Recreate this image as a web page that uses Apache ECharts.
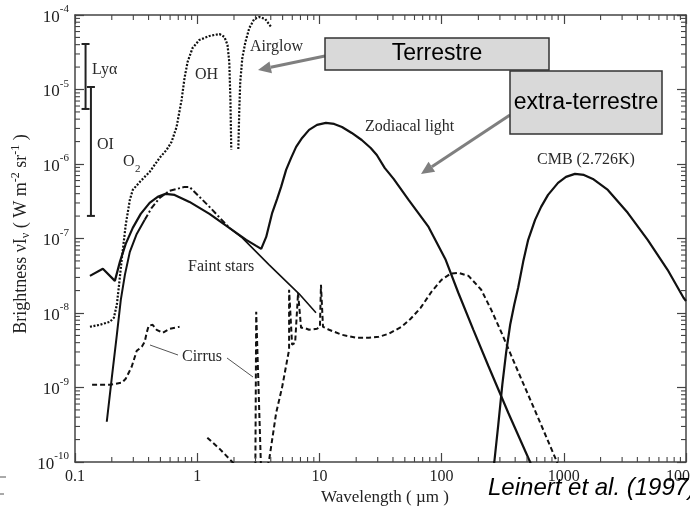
<!DOCTYPE html>
<html>
<head>
<meta charset="utf-8">
<script src="https://cdn.jsdelivr.net/npm/echarts@6/dist/echarts.min.js"></script>
<style>
  html, body { margin: 0; padding: 0; background: #ffffff; }
  #chart { width: 690px; height: 508px; }
</style>
</head>
<body>
<div id="chart"></div>
<script>
// Diffuse night-sky brightness: wavelength (µm) vs νIν (W m^-2 sr^-1)

// axis decades and minor steps
const xDecades = [0.1, 1, 10, 100, 1000, 10000];
const yDecades = [1e-10, 1e-9, 1e-8, 1e-7, 1e-6, 1e-5, 1e-4];
const minorSteps = [2, 3, 4, 5, 6, 7, 8, 9];

// zodiacal light (UV part, scattered-light peak, thermal emission peak)
const zodiacalLight = [
  [0.1325, 3.15e-8], [0.169, 3.92e-8], [0.212, 2.70e-8], [0.233, 4.86e-8], [0.260, 8.48e-8],
  [0.297, 1.39e-7], [0.345, 2.14e-7], [0.408, 3.01e-7], [0.475, 3.62e-7], [0.551, 3.97e-7],
  [0.653, 3.85e-7], [0.865, 3.10e-7], [1.26, 2.14e-7], [1.83, 1.39e-7], [2.52, 9.59e-8],
  [3.04, 7.96e-8], [3.34, 7.26e-8], [3.67, 1.05e-7], [4.11, 2.21e-7], [4.51, 3.40e-7],
  [4.86, 4.93e-7], [5.34, 8.33e-7], [5.87, 1.21e-6], [6.45, 1.70e-6], [7.22, 2.24e-6],
  [8.23, 2.87e-6], [9.56, 3.35e-6], [11.3, 3.56e-6], [13.2, 3.45e-6], [15.3, 3.14e-6],
  [18.4, 2.61e-6], [22.2, 2.10e-6], [26.3, 1.64e-6], [29.5, 1.32e-6], [34.2, 8.87e-7],
  [40.5, 6.31e-7], [53.7, 3.30e-7], [78.2, 1.43e-7], [108, 5.17e-8], [137, 1.87e-8],
  [182, 5.95e-9], [241, 1.96e-9], [351, 4.58e-10], [530, 1.0e-10], [600, 6.0e-11]
];

// integrated starlight: steep UV rise, visible peak, then faint stars into the IR
const starlightRise = [
  [0.182, 3.47e-10], [0.200, 1.35e-9], [0.220, 5.10e-9], [0.237, 1.50e-8],
  [0.256, 3.25e-8], [0.281, 6.62e-8], [0.320, 1.15e-7], [0.372, 1.78e-7]
];
const starlightPeak = [
  [0.372, 1.78e-7], [0.424, 2.58e-7], [0.493, 3.51e-7], [0.594, 4.36e-7],
  [0.788, 4.93e-7], [0.865, 4.93e-7], [1.26, 2.66e-7], [1.83, 1.39e-7]
];
const faintStars = [
  [1.83, 1.39e-7], [2.34, 1.02e-7], [3.88, 4.43e-8], [6.82, 1.81e-8], [9.38, 1.01e-8]
];

// airglow: O2 continuum and OH bands (two branches)
const airglowA = [
  [0.1325, 6.53e-9], [0.160, 6.95e-9], [0.193, 7.62e-9], [0.208, 8.62e-9], [0.220, 1.29e-8],
  [0.228, 2.18e-8], [0.242, 5.50e-8], [0.260, 1.52e-7], [0.281, 3.30e-7], [0.297, 4.49e-7],
  [0.339, 5.75e-7], [0.408, 7.83e-7], [0.493, 1.21e-6], [0.562, 1.55e-6], [0.617, 1.98e-6],
  [0.678, 3.14e-6], [0.745, 7.24e-6], [0.788, 1.43e-5], [0.834, 2.34e-5], [0.916, 3.61e-5],
  [1.04, 4.62e-5], [1.26, 5.23e-5], [1.52, 5.56e-5], [1.67, 5.07e-5], [1.77, 3.96e-5],
  [1.83, 2.34e-5], [1.87, 7.24e-6], [1.90, 1.55e-6]
];
const airglowB = [
  [2.17, 1.59e-6], [2.21, 5.32e-6], [2.25, 1.26e-5], [2.34, 2.65e-5], [2.48, 4.34e-5],
  [2.67, 6.69e-5], [2.93, 8.84e-5], [3.22, 9.40e-5], [3.60, 8.84e-5], [4.03, 6.90e-5]
];

// galactic cirrus (UV, near-IR tail, 3.3 µm feature, mid/far-IR)
const cirrusUV = [
  [0.138, 1.09e-9], [0.193, 1.09e-9], [0.242, 1.16e-9], [0.260, 1.31e-9], [0.291, 1.90e-9],
  [0.320, 3.11e-9], [0.352, 3.52e-9], [0.372, 4.11e-9], [0.386, 5.43e-9], [0.401, 6.74e-9],
  [0.432, 6.95e-9], [0.466, 5.95e-9], [0.521, 5.43e-9], [0.594, 6.14e-9], [0.717, 6.53e-9]
];
const cirrusNIR = [
  [1.21, 2.12e-10], [1.52, 1.51e-10], [1.94, 1.0e-10], [2.13, 8.4e-11]
];
const cirrus33 = [
  [2.99, 6.8e-11], [3.04, 1.04e-8], [3.34, 6.8e-11]
];
const cirrusIR = [
  [3.60, 6.8e-11], [3.88, 1.07e-10], [4.43, 4.58e-10], [4.96, 1.02e-9], [5.55, 2.75e-9],
  [5.65, 3.21e-9], [5.65, 2.05e-8], [5.98, 3.75e-9], [6.33, 3.98e-9], [6.69, 1.87e-8],
  [7.08, 6.33e-9], [7.49, 6.33e-9], [8.23, 5.95e-9], [9.56, 6.14e-9], [10.1, 6.53e-9],
  [10.3, 2.39e-8], [10.7, 6.53e-9], [12.0, 5.95e-9], [15.3, 5.10e-9], [19.9, 4.65e-9],
  [25.4, 4.65e-9], [30.6, 4.79e-9], [36.9, 5.26e-9], [47.1, 6.53e-9], [55.8, 8.36e-9],
  [67.3, 1.17e-8], [82.7, 1.93e-8], [99.8, 2.79e-8], [118, 3.36e-8], [137, 3.46e-8],
  [166, 3.15e-8], [211, 2.05e-8], [255, 1.10e-8], [302, 5.95e-9], [423, 1.63e-9],
  [616, 3.93e-10], [864, 1.07e-10], [897, 9.2e-11]
];

// cosmic microwave background, 2.726 K
const cmb = [
  [260, 6.8e-11], [270, 1.0e-10], [291, 3.17e-10], [314, 1.09e-9], [338, 3.02e-9],
  [364, 6.95e-9], [393, 1.29e-8], [423, 2.18e-8], [465, 4.86e-8], [511, 9.59e-8],
  [582, 1.78e-7], [652, 2.66e-7], [743, 3.85e-7], [897, 5.58e-7], [1042, 6.71e-7],
  [1234, 7.37e-7], [1461, 7.14e-7], [1730, 6.31e-7], [2293, 4.49e-7], [3337, 2.21e-7],
  [4857, 9.59e-8], [7068, 3.80e-8], [9542, 1.60e-8], [10000, 1.45e-8]
];

// emission-line ranges: [wavelength, low, high]
const lineRanges = [
  [0.122, 5.48e-6, 4.08e-5],   // Lyman alpha
  [0.135, 2.01e-7, 1.08e-5]    // OI 130.4 nm
];

const serif = '"Liberation Serif", "DejaVu Serif", serif';
const sans = '"Liberation Sans", Arial, sans-serif';
const axisColor = '#444';
const inkColor = '#111';
const labelColor = '#2a2a2a';

const xMinor = [];
xDecades.slice(0, -1).forEach(d => minorSteps.forEach(m => xMinor.push(d * m)));
const yMinor = [];
yDecades.slice(0, -1).forEach(d => minorSteps.forEach(m => yMinor.push(d * m)));

function curve(name, data, width, dash) {
  return {
    type: 'line', name: name, data: data,
    xAxisIndex: 0, yAxisIndex: 0,
    showSymbol: false, symbol: 'none', clip: true, silent: true,
    lineStyle: { color: inkColor, width: width, type: dash || 'solid', cap: 'butt' },
    z: 3
  };
}

function xFmt(v) { return v < 1 ? v.toFixed(1) : String(Math.round(v)); }
function yFmt(v) { return '{b|10}{s|' + Math.round(Math.log10(v)) + '}'; }

function arrow(x1, y1, x2, y2) {
  const dx = x2 - x1, dy = y2 - y1, len = Math.hypot(dx, dy);
  const ux = dx / len, uy = dy / len, head = 13, half = 6;
  const bx = x2 - ux * head, by = y2 - uy * head;
  return [
    { type: 'line', shape: { x1: x1, y1: y1, x2: bx, y2: by },
      style: { stroke: '#7f7f7f', lineWidth: 3 }, z: 20 },
    { type: 'polygon', shape: { points: [[x2, y2], [bx - uy * half, by + ux * half], [bx + uy * half, by - ux * half]] },
      style: { fill: '#7f7f7f' }, z: 20 }
  ];
}

function label(text, x, y, extra) {
  return Object.assign({
    type: 'text', x: x, y: y, z: 15,
    style: { text: text, font: '16px ' + serif, fill: labelColor, textAlign: 'left', textVerticalAlign: 'middle' }
  }, extra || {});
}

const baseAxis = {
  type: 'log', logBase: 10,
  axisLine: { show: true, onZero: false, lineStyle: { color: axisColor, width: 1.5 } },
  axisTick: { show: true, inside: true, length: 9, lineStyle: { color: axisColor, width: 1.2 } },
  splitLine: { show: false },
  minorTick: { show: false }
};

const chart = echarts.init(document.getElementById('chart'), null, { renderer: 'canvas' });

const option = {
  backgroundColor: '#ffffff',
  animation: false,
  grid: { left: 75, right: 4, top: 15, bottom: 46, containLabel: false, outerBoundsMode: 'none' },
  xAxis: [
    Object.assign({}, baseAxis, {
      min: 0.1, max: 10000, position: 'bottom',
      axisLabel: { formatter: xFmt, fontFamily: serif, fontSize: 16, color: '#222', margin: 7 }
    }),
    Object.assign({}, baseAxis, {
      min: 0.1, max: 10000, position: 'top', axisLabel: { show: false }
    })
  ],
  yAxis: [
    Object.assign({}, baseAxis, {
      min: 1e-10, max: 1e-4, position: 'left',
      axisLabel: {
        formatter: yFmt, margin: 6, color: '#222',
        rich: {
          b: { fontFamily: serif, fontSize: 17, lineHeight: 22, verticalAlign: 'bottom', color: '#222' },
          s: { fontFamily: serif, fontSize: 11, lineHeight: 11, verticalAlign: 'top', color: '#222' }
        }
      }
    }),
    Object.assign({}, baseAxis, {
      min: 1e-10, max: 1e-4, position: 'right', axisLabel: { show: false }
    })
  ],
  series: [
    curve('Zodiacal light', zodiacalLight, 2.2),
    curve('Starlight rise', starlightRise, 2),
    curve('Starlight', starlightPeak, 2, [6, 2.5, 2, 2.5]),
    curve('Faint stars', faintStars, 1.6),
    curve('Airglow', airglowA, 2.2, [2, 1.6]),
    curve('Airglow OH', airglowB, 2.2, [2, 1.6]),
    curve('Cirrus UV', cirrusUV, 2, [5, 3]),
    curve('Cirrus NIR', cirrusNIR, 2, [5, 3]),
    curve('Cirrus 3.3', cirrus33, 2, [5, 3]),
    curve('Cirrus', cirrusIR, 2, [5, 3]),
    curve('CMB', cmb, 2.2),
    {
      type: 'custom', name: 'Line ranges', coordinateSystem: 'cartesian2d',
      xAxisIndex: 0, yAxisIndex: 0, silent: true, z: 4,
      data: lineRanges, encode: { x: 0, y: [1, 2] },
      renderItem: function (params, api) {
        const x = api.value(0);
        const a = api.coord([x, api.value(1)]);
        const b = api.coord([x, api.value(2)]);
        const w = 4, st = { stroke: '#222', lineWidth: 2 };
        return { type: 'group', children: [
          { type: 'line', shape: { x1: a[0], y1: a[1], x2: b[0], y2: b[1] }, style: st },
          { type: 'line', shape: { x1: a[0] - w, y1: a[1], x2: a[0] + w, y2: a[1] }, style: st },
          { type: 'line', shape: { x1: b[0] - w, y1: b[1], x2: b[0] + w, y2: b[1] }, style: st }
        ] };
      }
    },
    {
      // minor log ticks on all four sides of the frame
      type: 'custom', name: 'Minor ticks', coordinateSystem: 'cartesian2d',
      xAxisIndex: 0, yAxisIndex: 0, silent: true, z: 5,
      data: [[1, 1e-7]], encode: { x: 0, y: 1 },
      renderItem: function (params, api) {
        const cs = params.coordSys;
        const left = cs.x, right = cs.x + cs.width, top = cs.y, bottom = cs.y + cs.height;
        const len = 5, st = { stroke: axisColor, lineWidth: 1.1 };
        const ch = [];
        xMinor.forEach(function (v) {
          const px = api.coord([v, 1e-7])[0];
          ch.push({ type: 'line', shape: { x1: px, y1: bottom, x2: px, y2: bottom - len }, style: st });
          ch.push({ type: 'line', shape: { x1: px, y1: top, x2: px, y2: top + len }, style: st });
        });
        yMinor.forEach(function (v) {
          const py = api.coord([1, v])[1];
          ch.push({ type: 'line', shape: { x1: left, y1: py, x2: left + len, y2: py }, style: st });
          ch.push({ type: 'line', shape: { x1: right, y1: py, x2: right - len, y2: py }, style: st });
        });
        return { type: 'group', children: ch };
      }
    }
  ],
  graphic: [].concat(
    [
      label('Lyα', 92, 70),
      label('OI', 97, 145),
      label('O', 123, 162),
      { type: 'text', x: 135, y: 169, z: 15,
        style: { text: '2', font: '11px ' + serif, fill: labelColor, textAlign: 'left', textVerticalAlign: 'middle' } },
      label('OH', 195, 75),
      label('Airglow', 250, 47),
      label('Zodiacal light', 365, 127),
      label('CMB (2.726K)', 537, 160),
      label('Faint stars', 188, 267),
      label('Cirrus', 182, 357),
      { type: 'line', shape: { x1: 150, y1: 345, x2: 178, y2: 355 }, style: { stroke: '#555', lineWidth: 1 }, z: 15 },
      { type: 'line', shape: { x1: 227, y1: 358, x2: 253, y2: 377 }, style: { stroke: '#555', lineWidth: 1 }, z: 15 },
      // axis titles
      { type: 'text', x: 385, y: 498, z: 15,
        style: { text: 'Wavelength ( µm )', font: '17px ' + serif, fill: '#222', textAlign: 'center', textVerticalAlign: 'middle' } },
      { type: 'text', x: 21, y: 234, rotation: Math.PI / 2, z: 15,
        style: {
          text: '{n|Brightness νI}{d|ν}{n| ( W m}{u|-2}{n| sr}{u|-1}{n| )}',
          textAlign: 'center', textVerticalAlign: 'middle',
          rich: {
            n: { fontFamily: serif, fontSize: 18, lineHeight: 22, fill: '#222', color: '#222' },
            d: { fontFamily: serif, fontSize: 12, lineHeight: 12, verticalAlign: 'bottom', fill: '#222', color: '#222' },
            u: { fontFamily: serif, fontSize: 12, lineHeight: 12, verticalAlign: 'top', fill: '#222', color: '#222' }
          }
        } },
      { type: 'text', x: 488, y: 488, z: 15,
        style: { text: 'Leinert et al. (1997)', font: 'italic 24px ' + sans, fill: '#000', textAlign: 'left', textVerticalAlign: 'middle' } },
      { type: 'line', shape: { x1: 0, y1: 477, x2: 6, y2: 477 }, style: { stroke: '#555', lineWidth: 1 } },
      { type: 'line', shape: { x1: 0, y1: 494, x2: 4, y2: 494 }, style: { stroke: '#555', lineWidth: 1 } }
    ],
    arrow(325, 56, 258, 70),
    arrow(510, 115, 421, 174),
    [
      { type: 'rect', shape: { x: 325, y: 38, width: 224, height: 32 }, z: 21,
        style: { fill: '#d9d9d9', stroke: '#333', lineWidth: 1.5 } },
      { type: 'text', x: 437, y: 54, z: 22,
        style: { text: 'Terrestre', font: '23px ' + sans, fill: '#000', textAlign: 'center', textVerticalAlign: 'middle' } },
      { type: 'rect', shape: { x: 510, y: 71, width: 152, height: 63 }, z: 21,
        style: { fill: '#d9d9d9', stroke: '#333', lineWidth: 1.5 } },
      { type: 'text', x: 586, y: 103, z: 22,
        style: { text: 'extra-terrestre', font: '23px ' + sans, fill: '#000', textAlign: 'center', textVerticalAlign: 'middle' } }
    ]
  )
};

chart.setOption(option);
</script>
</body>
</html>
